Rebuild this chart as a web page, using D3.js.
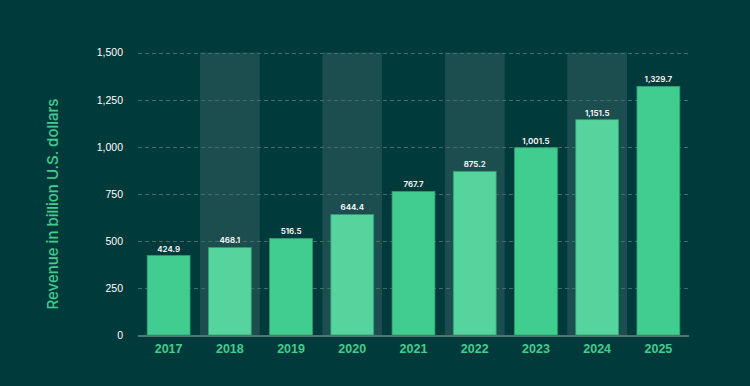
<!DOCTYPE html>
<html>
<head>
<meta charset="utf-8">
<script src="https://cdn.jsdelivr.net/npm/d3@7"></script>
<style>
  html, body { margin: 0; padding: 0; background: #013a3a; }
  svg { display: block; font-family: Inter, "Open Sans", sans-serif; }
</style>
</head>
<body>
<svg class="chart"></svg>
<script>
// data
var years = ["2017", "2018", "2019", "2020", "2021", "2022", "2023", "2024", "2025"];
var revenue = [424.9, 468.1, 516.5, 644.4, 767.7, 875.2, 1001.5, 1151.5, 1329.7];
var yTicks = [0, 250, 500, 750, 1000, 1250, 1500];

var width = 750, height = 386;

var svg = d3.select(".chart")
    .attr("width", width)
    .attr("height", height);

svg.append("rect").attr("width", width).attr("height", height).attr("fill", "#013a3a");

var x = d3.scaleBand()
    .domain(years)
    .range([138, 689])
    .paddingInner(0.3)
    .paddingOuter(0.15);

var xStep = d3.scaleBand().domain(years).range([138, 689]);

// grid scale
var y = d3.scaleLinear()
    .domain([0, 1500])
    .range([335.5, 52.5]);

// bars sit a touch lower than the grid in the original
var yBar = d3.scaleLinear()
    .domain([0, 1500])
    .range([335, 54.5]);

// shaded columns behind every other year
svg.append("g").selectAll("rect")
    .data(years.filter(function(d, i){ return i % 2 == 1; }))
    .enter().append("rect")
    .attr("x", function(d){ return xStep(d) + 0.7; })
    .attr("width", xStep.bandwidth() - 1.4)
    .attr("y", y(1500))
    .attr("height", y(0) - y(1500))
    .attr("fill", "#1d4e4f");

// left axis
var yAxis = d3.axisLeft(y)
    .tickValues(yTicks)
    .tickFormat(d3.format(","))
    .tickSize(0)
    .tickPadding(15);

var gy = svg.append("g")
    .attr("transform", "translate(138,0)")
    .call(yAxis);
gy.select(".domain").remove();
gy.selectAll("text")
    .attr("fill", "#ffffff")
    .style("font-size", "10.5px")
    .style("font-weight", 500);

// gridlines
svg.append("g").selectAll("line")
    .data(yTicks.filter(function(d){ return d > 0; }))
    .enter().append("line")
    .attr("x1", 138)
    .attr("x2", 689)
    .attr("y1", function(d){ return Math.round(y(d)) + 0.5; })
    .attr("y2", function(d){ return Math.round(y(d)) + 0.5; })
    .attr("stroke", "#3f6e6e")
    .attr("stroke-dasharray", "4,3");

// bars
svg.append("g").selectAll("rect")
    .data(revenue)
    .enter().append("rect")
    .attr("x", function(d, i){ return x(years[i]); })
    .attr("width", x.bandwidth())
    .attr("y", function(d){ return yBar(d); })
    .attr("height", function(d){ return yBar(0) - yBar(d); })
    .attr("fill", function(d, i){ return i % 2 == 0 ? "#40cd8f" : "#55d49d"; })
    .attr("stroke", "#2f9e6f")
    .attr("stroke-width", 0.8);

// value labels
svg.append("g").selectAll("text")
    .data(revenue)
    .enter().append("text")
    .attr("x", function(d, i){ return x(years[i]) + x.bandwidth() / 2; })
    .attr("y", function(d){ return yBar(d) - 4; })
    .attr("text-anchor", "middle")
    .attr("fill", "#ffffff")
    .style("font-size", "8px")
    .style("font-weight", 600)
    .text(d3.format(",.1f"));

// baseline
svg.append("line")
    .attr("x1", 138).attr("x2", 689)
    .attr("y1", yBar(0) + 1).attr("y2", yBar(0) + 1)
    .attr("stroke", "#4f7575")
    .attr("stroke-width", 2);

// bottom axis
var gx = svg.append("g")
    .attr("transform", "translate(0," + (yBar(0) + 2) + ")")
    .call(d3.axisBottom(x).tickSize(0).tickPadding(7));
gx.select(".domain").remove();
gx.selectAll("text")
    .attr("fill", "#40cd8f")
    .style("font-size", "12.5px")
    .style("font-weight", 700);

// y label
svg.append("text")
    .attr("transform", "translate(58,204) rotate(-90)")
    .attr("text-anchor", "middle")
    .attr("fill", "#40cd8f")
    .style("font-size", "15px")
    .style("font-weight", 500)
    .text("Revenue in billion U.S. dollars");
</script>
</body>
</html>
